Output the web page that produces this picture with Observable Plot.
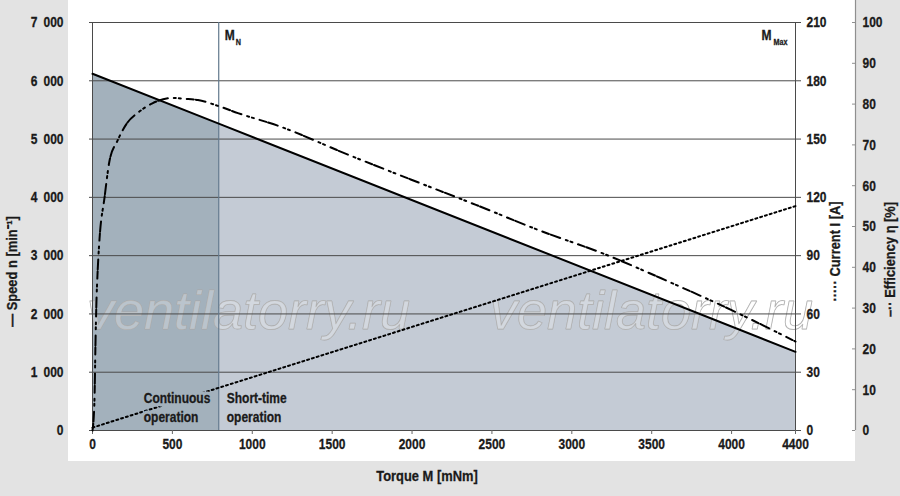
<!DOCTYPE html>
<html><head><meta charset="utf-8">
<script src="https://cdn.jsdelivr.net/npm/d3@7"></script>
<script src="https://cdn.jsdelivr.net/npm/@observablehq/plot@0.6"></script>
<style>
html,body{margin:0;padding:0;background:#e3e3e3;}
#wrap{position:relative;width:900px;height:496px;overflow:hidden;}
#panel{position:absolute;left:68px;top:0;width:787px;height:461px;background:#fff;}
#chart{position:absolute;left:0;top:0;}
</style></head><body>
<div id="wrap"><div id="panel"></div><div id="chart"></div></div>
<script>
// ---- data ----
const torqueTicks = [0, 500, 1000, 1500, 2000, 2500, 3000, 3500, 4000, 4400];
const speedTicks = [0, 1000, 2000, 3000, 4000, 5000, 6000, 7000];
const currentTicks = [0, 30, 60, 90, 120, 150, 180, 210];
const effTicks = [0, 10, 20, 30, 40, 50, 60, 70, 80, 90, 100];
const ratedTorque = 790;
const maxTorque = 4400;
const speedTorque = [0, 790, 4400];
const speed = [6120, 5265, 1350];
const currentTorque = [0, 4400];
const current = [1.5, 115.5];
const effTorque = [0, 12, 19, 25, 31, 44, 75, 106, 156, 219, 288, 375, 500, 580, 660, 790, 910, 1160, 1600, 2000, 2400, 2800, 3200, 3600, 4000, 4400];
const efficiency = [0, 7, 22, 32, 38, 47, 57, 66, 71, 75.5, 78, 80.2, 81.5, 81.3, 81, 79.5, 77.8, 74.7, 67.6, 61.4, 55.3, 49, 43.3, 36.6, 29.5, 21.8];
const labels = {
  x: "Torque M [mNm]",
  speed: "— Speed n [min⁻¹]",
  current: "····· Current I [A]",
  eff: "–·· Efficiency η [%]",
  cont: "Continuous\noperation",
  short: "Short-time\noperation",
  watermark: "ventilatorry.ru"
};

// ---- derived tables (secondary axes mapped onto the speed scale) ----
const curK = 7000 / 210, effK = 7000 / 100;
const speedData = speedTorque.map((m, i) => ({m, v: speed[i]}));
const darkArea = speedData.filter(d => d.m <= ratedTorque);
const lightArea = speedData.filter(d => d.m >= ratedTorque);
const curData = currentTorque.map((m, i) => ({m, v: current[i] * curK}));
const effData = effTorque.map((m, i) => ({m, v: efficiency[i] * effK}));
const fmtSpeed = d => d === 0 ? "0" : d3.format(",")(d).replace(/,/g, "\u2002");

const FONT = '"Liberation Sans",Arial,sans-serif';
const INK = "#1a1a1a";
const DARK = "#a3b1bc", LIGHT = "#c4cbd5";
const tx = {fontFamily: FONT, fontWeight: "bold", fontSize: 15, fill: INK};
const contOpts = {x: ratedTorque, y: 0, dx: -75, dy: -24, textAnchor: "start", lineAnchor: "middle", lineHeight: 1.3, ...tx, fontSize: 15};

const chart = Plot.plot({
  width: 900, height: 496,
  marginLeft: 92, marginRight: 105, marginTop: 22, marginBottom: 66,
  style: {background: "transparent", fontFamily: FONT, fontSize: "15px", color: INK, overflow: "visible"},
  x: {domain: [0, 4400]},
  y: {domain: [0, 7000]},
  marks: [
    Plot.areaY(darkArea, {x: "m", y: "v", fill: DARK}),
    Plot.areaY(lightArea, {x: "m", y: "v", fill: LIGHT}),
    Plot.text([labels.watermark], {frameAnchor: "bottom-left", dx: 156, dy: -102, textAnchor: "middle", fontFamily: FONT, fontStyle: "italic", fontSize: 54, fill: "white", fillOpacity: 0.25, stroke: "#a8a8a8", strokeWidth: 0.9}),
    Plot.text([labels.watermark], {frameAnchor: "bottom-left", dx: 559, dy: -102, textAnchor: "middle", fontFamily: FONT, fontStyle: "italic", fontSize: 54, fill: "white", fillOpacity: 0.25, stroke: "#a8a8a8", strokeWidth: 0.9}),
    Plot.ruleY(speedTicks, {stroke: "#4a4a4a", strokeWidth: 1}),
    Plot.ruleX([0, maxTorque], {stroke: "#4a4a4a", strokeWidth: 1}),
    Plot.ruleX([ratedTorque], {stroke: "#62798d", strokeWidth: 1.2}),
    Plot.ruleX([maxTorque], {dx: 60, insetTop: -22, stroke: "#8f8f8f", strokeWidth: 1.2}),
    Plot.axisX(torqueTicks, {tickSize: 4, tickPadding: 4, tickFormat: d => String(d), label: null, ...tx, stroke: "#666"}),
    Plot.axisY(speedTicks, {anchor: "left", tickSize: 3, tickPadding: 26, tickFormat: fmtSpeed, label: null, ...tx, stroke: "#4a4a4a"}),
    Plot.axisY(currentTicks.map(c => c * curK), {anchor: "right", tickSize: 5, tickPadding: 6, tickFormat: d => String(Math.round(d / curK)), label: null, ...tx, stroke: "#4a4a4a"}),
    Plot.axisY(effTicks.map(e => e * effK), {anchor: "left", dx: 763, tickSize: 3, tickPadding: 0, tickFormat: () => "", label: null, stroke: "#8f8f8f"}),
    Plot.axisY(effTicks.map(e => e * effK), {anchor: "right", tickSize: 0, tickPadding: 67, tickFormat: d => String(Math.round(d / effK)), label: null, ...tx}),
    Plot.line(curData, {x: "m", y: "v", stroke: "#000", strokeWidth: 2, strokeDasharray: "2 3"}),
    Plot.line(effData, {x: "m", y: "v", stroke: "#000", strokeWidth: 2, curve: "monotone-x", strokeDasharray: "7 2 10 6 2 3 2 6"}),
    Plot.line(speedData, {x: "m", y: "v", stroke: "#000", strokeWidth: 2}),
    Plot.text(["M"], {x: ratedTorque, y: 7000, dx: 6, dy: 13, textAnchor: "start", ...tx, fontSize: 15}),
    Plot.text(["N"], {x: ratedTorque, y: 7000, dx: 17, dy: 20, textAnchor: "start", ...tx, fontSize: 9}),
    Plot.text(["M"], {x: maxTorque, y: 7000, dx: -24, dy: 13, textAnchor: "end", ...tx, fontSize: 15}),
    Plot.text(["Max"], {x: maxTorque, y: 7000, dx: -8, dy: 20, textAnchor: "end", ...tx, fontSize: 9}),
    Plot.text([labels.cont], {...contOpts, fill: DARK, stroke: DARK, strokeWidth: 7, strokeLinejoin: "round"}),
    Plot.text([labels.cont], contOpts),
    Plot.text([labels.short], {x: ratedTorque, y: 0, dx: 8, dy: -24, textAnchor: "start", lineAnchor: "middle", lineHeight: 1.3, ...tx, fontSize: 15}),
    Plot.text([labels.x], {frameAnchor: "bottom", dx: -17, dy: 50, textAnchor: "middle", ...tx, fontSize: 15}),
    Plot.text([labels.speed], {frameAnchor: "left", rotate: -90, dx: -80, dy: 45, textAnchor: "middle", ...tx, fontSize: 15}),
    Plot.text([labels.current], {frameAnchor: "right", rotate: -90, dx: 40, dy: 25, textAnchor: "middle", ...tx, fontSize: 15}),
    Plot.text([labels.eff], {frameAnchor: "right", rotate: -90, dx: 95, dy: 33, textAnchor: "middle", ...tx, fontSize: 15})
  ]
});
// narrow the sans glyphs horizontally to imitate the condensed face of the reference
const titles = new Set([labels.x, labels.speed, labels.current, labels.eff]);
d3.select(chart).selectAll("text").each(function() {
  if (this.textContent === labels.watermark) return;
  let t = this.getAttribute("transform");
  if (!t) {
    const x = this.getAttribute("x") || 0, y = this.getAttribute("y") || 0;
    this.removeAttribute("x"); this.removeAttribute("y");
    t = `translate(${x},${y})`;
  }
  const k = titles.has(this.textContent) ? 0.86 : 0.8;
  this.setAttribute("transform", t + ` scale(${k},1)`);
  if (!this.closest(`g[stroke="${DARK}"]`)) {
    this.style.stroke = INK;
    this.style.strokeWidth = "0.3px";
  }
});
document.getElementById("chart").appendChild(chart);
</script>
</body></html>
